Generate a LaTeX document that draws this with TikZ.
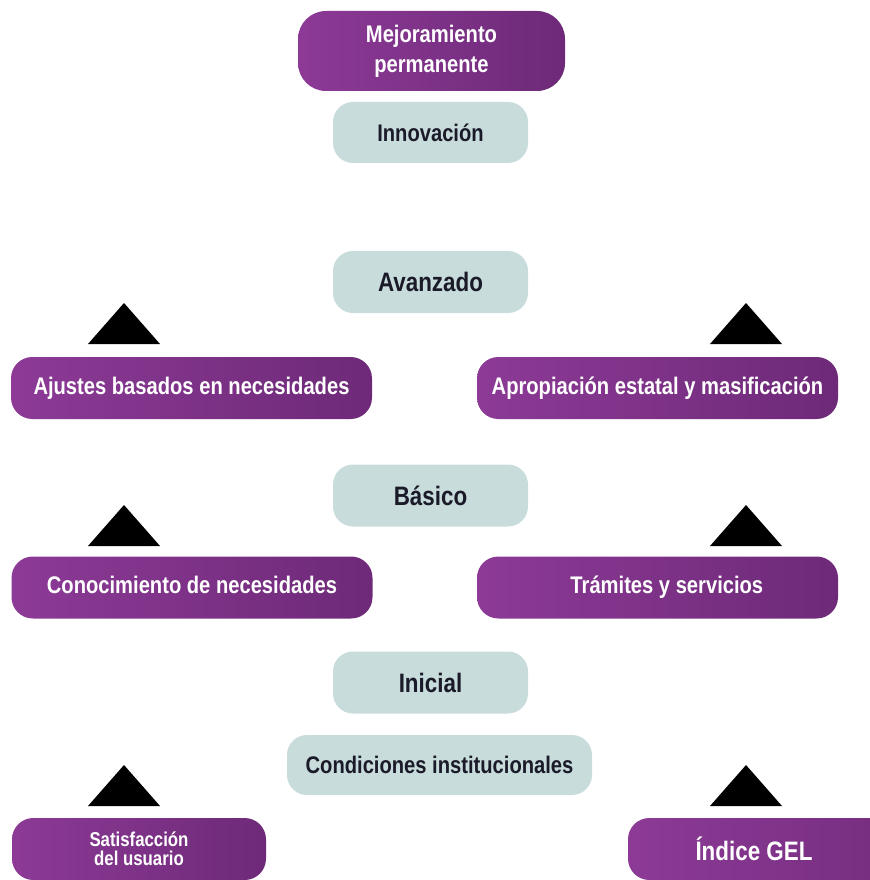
\documentclass[tikz,border=0pt]{standalone}
\usepackage{fontspec}
\usepackage{tikz}
\newfontfamily\condfont{Liberation Sans}[FakeStretch=0.84]
\definecolor{purpleL}{HTML}{8C3A96}
\definecolor{purpleR}{HTML}{6E2A78}
\definecolor{grayfill}{HTML}{C8DCDC}
\definecolor{darktext}{HTML}{1A1A28}
\tikzstyle{pbox}=[rounded corners=16pt, left color=purpleL, right color=purpleR, text=white, align=center, inner sep=0pt, minimum height=46.5pt, font=\condfont\bfseries\fontsize{18}{22.5}\selectfont]
\tikzstyle{oneline}=[text height=13pt, text depth=3.5pt]
\tikzstyle{gbox}=[rounded corners=15pt, fill=grayfill, text=darktext, align=center, inner sep=0pt, minimum width=146.25pt, minimum height=46.5pt, font=\condfont\bfseries\fontsize{18}{22.5}\selectfont]
\tikzstyle{level}=[gbox, font=\condfont\bfseries\fontsize{20}{24}\selectfont]
\tikzstyle{tri}=[fill=black]

\begin{document}
\begin{tikzpicture}[x=0.75pt, y=-0.75pt]
					\useasboundingbox (0,0) rectangle (869,880);
					
					\node[pbox, minimum width=200.25pt, minimum height=60pt, rounded corners=21pt] (mejora) at (431.5,51) {Mejoramiento\\permanente};
					\node[gbox, minimum height=45.75pt] (innova) at (430.5,132.5) {Innovación};
					
					\node[level] (avanzado) at (430.5,282) {Avanzado};
					\node[pbox, oneline, minimum width=270.75pt] (ajustes) at (191.5,388) {Ajustes basados en necesidades};
					\node[pbox, oneline, minimum width=270.75pt] (apropia) at (657.5,388) {Apropiación estatal y masificación};
					
					\node[level] (basico) at (430.5,495.5) {Básico};
					\node[pbox, oneline, minimum width=270.75pt] (conoce) at (192,587.5) {Conocimiento de necesidades};
					\node[pbox, oneline, minimum width=270.75pt] (tramites) at (657.5,587.5) {\hspace*{14pt}Trámites y servicios};
					
					\node[level] (inicial) at (430.5,682.5) {Inicial};
					\node[gbox, minimum width=228.75pt, minimum height=45pt] (condicion) at (439.5,765) {Condiciones institucionales};
					\node[pbox, minimum width=190.5pt, font=\condfont\bfseries\fontsize{15}{14}\selectfont] (satisface) at (139,849) {Satisfacción\\del usuario};
					\node[pbox, minimum width=270.75pt, font=\condfont\bfseries\fontsize{20}{24}\selectfont] (indice) at (808.5,849) {\hspace*{-81.75pt}Índice GEL};
					
					% triangles above the side boxes
					\foreach \ty in {303,505,765}{
						\fill[tri] (124,\ty) -- (160,\ty+41) -- (88,\ty+41) -- cycle;
						\fill[tri] (746,\ty) -- (782,\ty+41) -- (710,\ty+41) -- cycle;
					}
				\end{tikzpicture}
\end{document}
